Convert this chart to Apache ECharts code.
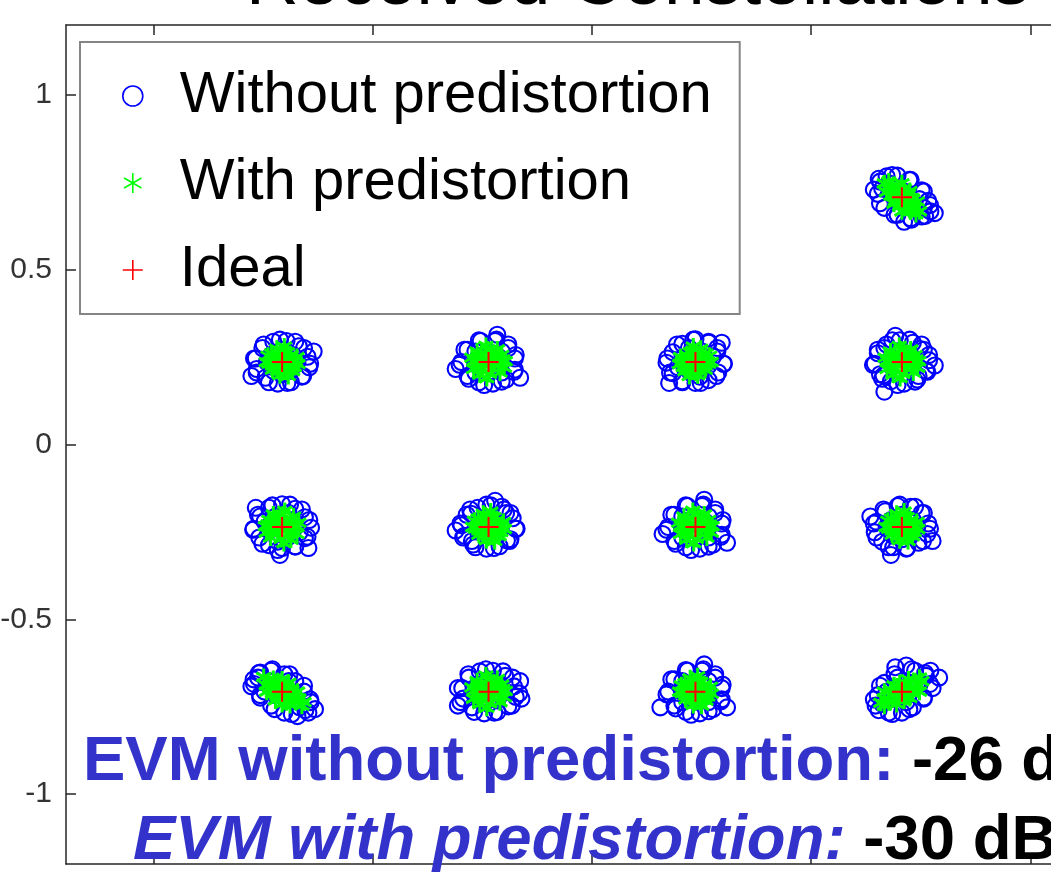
<!DOCTYPE html>
<html>
<head>
<meta charset="utf-8">
<script src="https://cdn.jsdelivr.net/npm/echarts@6/dist/echarts.min.js"></script>
<style>
  html, body { margin: 0; padding: 0; background: #ffffff; }
  #chart { width: 1051px; height: 873px; }
</style>
</head>
<body>
<div id="chart"></div>
<script>
// 16-QAM received constellation: measured symbols with and without predistortion
const titleText = 'Received Constellations';
const seriesNames = ['Without predistortion', 'With predistortion', 'Ideal'];
const xTicks = [-1, -0.5, 0, 0.5, 1];
const yTicks = [-1, -0.5, 0, 0.5, 1];
const evmWithout = -26;   // dB
const evmWith = -30;      // dB

// ideal 16-QAM symbol positions
const ideal = [
  [-0.707, 0.707], [-0.236, 0.707], [0.236, 0.707], [0.707, 0.707],
  [-0.707, 0.236], [-0.236, 0.236], [0.236, 0.236], [0.707, 0.236],
  [-0.707, -0.236], [-0.236, -0.236], [0.236, -0.236], [0.707, -0.236],
  [-0.707, -0.707], [-0.236, -0.707], [0.236, -0.707], [0.707, -0.707]
];

// received symbols, PA without predistortion
const withoutPD = [
  [-0.767,0.662],[-0.767,0.697],[-0.747,0.737],[-0.717,0.767],[-0.687,0.772],[-0.662,0.757],[-0.642,0.737],[-0.647,0.702],[-0.672,0.672],[-0.702,0.652],[-0.732,0.647],[-0.752,0.672],[-0.727,0.717],[-0.687,0.727],[-0.707,0.687],[-0.677,0.707],[-0.737,0.687],[-0.697,0.742],[-0.747,0.707],[-0.662,0.722],[-0.637,0.762],[-0.777,0.657],
  [-0.301,0.702],[-0.286,0.737],[-0.266,0.762],[-0.236,0.772],[-0.206,0.759],[-0.184,0.735],[-0.170,0.705],[-0.184,0.675],[-0.206,0.652],[-0.236,0.647],[-0.266,0.655],[-0.288,0.677],[-0.251,0.737],[-0.206,0.717],[-0.224,0.677],[-0.266,0.697],
  [0.181,0.732],[0.201,0.757],[0.231,0.769],[0.261,0.762],[0.286,0.742],[0.298,0.712],[0.291,0.682],[0.271,0.657],[0.241,0.645],[0.211,0.652],[0.186,0.672],[0.174,0.702],[0.216,0.717],[0.246,0.732],[0.258,0.697],[0.228,0.685],
  [0.657,0.752],[0.672,0.767],[0.697,0.769],[0.727,0.757],[0.752,0.727],[0.767,0.697],[0.772,0.667],[0.752,0.652],[0.727,0.647],[0.697,0.657],[0.667,0.677],[0.652,0.717],[0.682,0.732],[0.732,0.682],[0.717,0.722],[0.692,0.697],[0.747,0.702],[0.677,0.747],[0.757,0.677],[0.662,0.732],[0.782,0.662],[0.712,0.637],
  [0.760,0.654],[0.771,0.685],[0.757,0.724],[0.724,0.757],[0.685,0.771],[0.654,0.760],[0.643,0.729],[0.657,0.690],[0.690,0.657],[0.729,0.643],

  [-0.767,0.246],[-0.752,0.276],[-0.727,0.294],[-0.697,0.296],[-0.669,0.281],[-0.649,0.251],[-0.645,0.221],[-0.662,0.194],[-0.687,0.178],[-0.717,0.174],[-0.745,0.191],[-0.765,0.216],[-0.732,0.256],[-0.682,0.256],[-0.687,0.211],[-0.727,0.211],[-0.707,0.271],[-0.672,0.236],[-0.707,0.201],[-0.742,0.236],[-0.635,0.266],[-0.777,0.196],
  [-0.657,0.276],[-0.643,0.231],[-0.659,0.196],[-0.695,0.176],[-0.737,0.178],[-0.765,0.206],[-0.771,0.246],[-0.749,0.286],[-0.712,0.300],[-0.677,0.294],
  [-0.298,0.236],[-0.284,0.271],[-0.254,0.296],[-0.221,0.296],[-0.191,0.276],[-0.176,0.246],[-0.176,0.214],[-0.196,0.186],[-0.226,0.174],[-0.258,0.178],[-0.284,0.196],[-0.266,0.236],[-0.236,0.264],[-0.208,0.236],[-0.236,0.208],[-0.206,0.266],[-0.266,0.266],[-0.206,0.206],[-0.266,0.206],[-0.311,0.216],[-0.216,0.314],[-0.164,0.191],
  [-0.174,0.256],[-0.178,0.208],[-0.206,0.180],[-0.246,0.170],[-0.281,0.188],[-0.302,0.228],[-0.291,0.271],[-0.258,0.298],[-0.218,0.300],[-0.191,0.286],
  [0.301,0.231],[0.286,0.266],[0.266,0.291],[0.236,0.301],[0.206,0.288],[0.184,0.264],[0.170,0.234],[0.184,0.204],[0.206,0.181],[0.236,0.176],[0.266,0.184],[0.288,0.206],[0.251,0.266],[0.206,0.246],[0.224,0.206],[0.266,0.226],[0.221,0.276],[0.276,0.251],[0.196,0.221],[0.246,0.194],[0.296,0.291],[0.176,0.176],
  [0.286,0.276],[0.300,0.231],[0.284,0.196],[0.248,0.176],[0.206,0.178],[0.178,0.206],[0.172,0.246],[0.194,0.286],[0.231,0.300],[0.266,0.294],
  [0.652,0.261],[0.672,0.286],[0.702,0.298],[0.732,0.291],[0.757,0.271],[0.769,0.241],[0.762,0.211],[0.742,0.186],[0.712,0.174],[0.682,0.181],[0.657,0.201],[0.645,0.231],[0.687,0.246],[0.717,0.261],[0.729,0.226],[0.699,0.214],[0.667,0.276],[0.747,0.274],[0.745,0.196],[0.665,0.198],[0.782,0.226],[0.692,0.311],[0.667,0.151],
  [0.769,0.256],[0.765,0.208],[0.737,0.180],[0.697,0.170],[0.662,0.188],[0.641,0.228],[0.652,0.271],[0.685,0.298],[0.725,0.300],[0.752,0.286],

  [-0.772,-0.241],[-0.757,-0.206],[-0.737,-0.181],[-0.707,-0.171],[-0.677,-0.184],[-0.655,-0.208],[-0.641,-0.238],[-0.655,-0.268],[-0.677,-0.291],[-0.707,-0.296],[-0.737,-0.288],[-0.759,-0.266],[-0.722,-0.206],[-0.677,-0.226],[-0.695,-0.266],[-0.737,-0.246],[-0.692,-0.196],[-0.747,-0.221],[-0.667,-0.251],[-0.717,-0.278],[-0.767,-0.181],[-0.647,-0.296],[-0.712,-0.316],
  [-0.645,-0.216],[-0.649,-0.264],[-0.677,-0.292],[-0.717,-0.302],[-0.752,-0.284],[-0.773,-0.244],[-0.762,-0.201],[-0.729,-0.174],[-0.689,-0.172],[-0.662,-0.186],
  [-0.181,-0.211],[-0.201,-0.186],[-0.231,-0.174],[-0.261,-0.181],[-0.286,-0.201],[-0.298,-0.231],[-0.291,-0.261],[-0.271,-0.286],[-0.241,-0.298],[-0.211,-0.291],[-0.186,-0.271],[-0.174,-0.241],[-0.216,-0.226],[-0.246,-0.211],[-0.258,-0.246],[-0.228,-0.258],[-0.196,-0.196],[-0.276,-0.198],[-0.274,-0.276],[-0.194,-0.274],[-0.311,-0.246],[-0.221,-0.161],
  [-0.186,-0.196],[-0.172,-0.241],[-0.188,-0.276],[-0.224,-0.296],[-0.266,-0.294],[-0.294,-0.266],[-0.300,-0.226],[-0.278,-0.186],[-0.241,-0.172],[-0.206,-0.178],
  [0.174,-0.236],[0.188,-0.201],[0.218,-0.176],[0.251,-0.176],[0.281,-0.196],[0.296,-0.226],[0.296,-0.258],[0.276,-0.286],[0.246,-0.298],[0.214,-0.294],[0.188,-0.276],[0.206,-0.236],[0.236,-0.208],[0.264,-0.236],[0.236,-0.264],[0.266,-0.206],[0.206,-0.206],[0.266,-0.266],[0.206,-0.266],[0.161,-0.256],[0.256,-0.158],[0.308,-0.281],
  [0.298,-0.216],[0.294,-0.264],[0.266,-0.292],[0.226,-0.302],[0.191,-0.284],[0.170,-0.244],[0.181,-0.201],[0.214,-0.174],[0.254,-0.172],[0.281,-0.186],
  [0.767,-0.226],[0.752,-0.196],[0.727,-0.178],[0.697,-0.176],[0.669,-0.191],[0.649,-0.221],[0.645,-0.251],[0.662,-0.278],[0.687,-0.294],[0.717,-0.298],[0.745,-0.281],[0.765,-0.256],[0.732,-0.216],[0.682,-0.216],[0.687,-0.261],[0.727,-0.261],[0.707,-0.201],[0.672,-0.236],[0.707,-0.271],[0.742,-0.236],[0.635,-0.206],[0.777,-0.276],[0.682,-0.316],
  [0.757,-0.196],[0.771,-0.241],[0.755,-0.276],[0.719,-0.296],[0.677,-0.294],[0.649,-0.266],[0.643,-0.226],[0.665,-0.186],[0.702,-0.172],[0.737,-0.178],

  [-0.772,-0.672],[-0.757,-0.652],[-0.732,-0.647],[-0.702,-0.657],[-0.677,-0.677],[-0.657,-0.707],[-0.642,-0.737],[-0.647,-0.767],[-0.672,-0.777],[-0.702,-0.767],[-0.732,-0.747],[-0.757,-0.717],[-0.777,-0.692],[-0.737,-0.677],[-0.682,-0.732],[-0.707,-0.692],[-0.667,-0.752],[-0.722,-0.717],[-0.692,-0.677],[-0.747,-0.707],[-0.632,-0.757],[-0.762,-0.667],
  [-0.654,-0.760],[-0.643,-0.729],[-0.657,-0.690],[-0.690,-0.657],[-0.729,-0.643],[-0.760,-0.654],[-0.771,-0.685],[-0.757,-0.724],[-0.724,-0.757],[-0.685,-0.771],
  [-0.296,-0.697],[-0.281,-0.667],[-0.256,-0.649],[-0.226,-0.647],[-0.198,-0.662],[-0.178,-0.692],[-0.174,-0.722],[-0.191,-0.749],[-0.216,-0.765],[-0.246,-0.769],[-0.274,-0.752],[-0.294,-0.727],[-0.261,-0.687],[-0.211,-0.687],[-0.216,-0.732],[-0.256,-0.732],[-0.236,-0.672],[-0.201,-0.707],[-0.236,-0.742],[-0.271,-0.707],[-0.164,-0.677],[-0.306,-0.747],[-0.161,-0.727],
  [-0.181,-0.667],[-0.166,-0.712],[-0.183,-0.747],[-0.223,-0.767],[-0.269,-0.765],[-0.300,-0.737],[-0.306,-0.697],[-0.282,-0.657],[-0.242,-0.643],[-0.203,-0.649],
  [0.174,-0.707],[0.188,-0.672],[0.218,-0.647],[0.251,-0.647],[0.281,-0.667],[0.296,-0.697],[0.296,-0.729],[0.276,-0.757],[0.246,-0.769],[0.214,-0.765],[0.188,-0.747],[0.206,-0.707],[0.236,-0.679],[0.264,-0.707],[0.236,-0.735],[0.266,-0.677],[0.206,-0.677],[0.266,-0.737],[0.206,-0.737],[0.156,-0.752],[0.256,-0.629],[0.308,-0.752],
  [0.298,-0.687],[0.294,-0.735],[0.266,-0.763],[0.226,-0.773],[0.191,-0.755],[0.170,-0.715],[0.181,-0.672],[0.214,-0.645],[0.254,-0.643],[0.281,-0.657],
  [0.647,-0.747],[0.652,-0.717],[0.667,-0.682],[0.692,-0.637],[0.717,-0.632],[0.737,-0.647],[0.762,-0.662],[0.792,-0.667],[0.777,-0.697],[0.757,-0.727],[0.732,-0.752],[0.707,-0.767],[0.677,-0.767],[0.662,-0.742],[0.687,-0.722],[0.727,-0.682],[0.747,-0.687],[0.697,-0.667],[0.717,-0.737],[0.672,-0.707],[0.772,-0.647],[0.702,-0.697],
  [0.760,-0.654],[0.729,-0.643],[0.690,-0.657],[0.657,-0.690],[0.643,-0.729],[0.654,-0.760],[0.685,-0.771],[0.724,-0.757],[0.757,-0.724],[0.771,-0.685]
];

// received symbols, PA with predistortion
const withPD = [
  [-0.707,0.707],[-0.677,0.737],[-0.737,0.677],[-0.672,0.727],[-0.747,0.687],[-0.692,0.742],[-0.719,0.672],[-0.687,0.717],[-0.727,0.697],[-0.717,0.722],[-0.697,0.692],[-0.702,0.682],[-0.712,0.732],[-0.667,0.707],[-0.747,0.707],[-0.667,0.747],[-0.747,0.667],[-0.732,0.712],[-0.682,0.702],[-0.692,0.727],[-0.722,0.687],[-0.689,0.689],[-0.725,0.725],[-0.662,0.737],[-0.755,0.675],[-0.707,0.715],
  [-0.236,0.707],[-0.256,0.717],[-0.218,0.695],[-0.246,0.682],[-0.216,0.727],[-0.266,0.702],[-0.206,0.709],[-0.231,0.739],[-0.241,0.669],[-0.224,0.735],[-0.260,0.731],[-0.212,0.681],[-0.268,0.725],[-0.202,0.721],[-0.251,0.692],[-0.226,0.702],
  [0.240,0.709],[0.218,0.725],[0.258,0.699],[0.222,0.687],[0.252,0.731],[0.204,0.711],[0.268,0.715],[0.234,0.743],[0.238,0.673],[0.256,0.743],[0.210,0.737],[0.262,0.677],[0.202,0.687],[0.272,0.691],[0.226,0.697],[0.248,0.717],
  [0.707,0.707],[0.677,0.737],[0.737,0.677],[0.687,0.742],[0.727,0.667],[0.672,0.722],[0.742,0.695],[0.697,0.727],[0.717,0.687],[0.692,0.697],[0.722,0.717],[0.682,0.712],[0.732,0.702],[0.707,0.747],[0.707,0.667],[0.667,0.747],[0.747,0.667],[0.702,0.682],[0.712,0.732],[0.687,0.722],[0.727,0.692],[0.725,0.725],[0.689,0.689],[0.677,0.752],[0.739,0.659],[0.715,0.707],

  [-0.707,0.236],[-0.727,0.246],[-0.689,0.224],[-0.717,0.211],[-0.687,0.256],[-0.737,0.231],[-0.677,0.238],[-0.702,0.268],[-0.712,0.198],[-0.695,0.264],[-0.731,0.260],[-0.683,0.210],[-0.739,0.254],[-0.673,0.250],[-0.722,0.221],[-0.697,0.231],[-0.715,0.251],[-0.689,0.241],[-0.729,0.214],[-0.679,0.222],[-0.707,0.216],[-0.743,0.236],[-0.671,0.230],[-0.702,0.280],[-0.719,0.274],[-0.693,0.196],
  [-0.232,0.238],[-0.254,0.254],[-0.214,0.228],[-0.250,0.216],[-0.220,0.260],[-0.268,0.240],[-0.204,0.244],[-0.238,0.272],[-0.234,0.202],[-0.216,0.272],[-0.262,0.266],[-0.210,0.206],[-0.270,0.216],[-0.200,0.220],[-0.246,0.226],[-0.224,0.246],[-0.246,0.246],[-0.226,0.218],[-0.256,0.200],[-0.206,0.256],[-0.240,0.190],[-0.274,0.248],[-0.198,0.238],[-0.242,0.282],[-0.228,0.256],[-0.260,0.232],
  [0.236,0.236],[0.256,0.246],[0.218,0.224],[0.246,0.211],[0.216,0.256],[0.266,0.231],[0.206,0.238],[0.231,0.268],[0.241,0.198],[0.224,0.264],[0.260,0.260],[0.212,0.210],[0.268,0.254],[0.202,0.250],[0.251,0.221],[0.226,0.231],[0.244,0.251],[0.218,0.241],[0.258,0.214],[0.208,0.222],[0.236,0.216],[0.272,0.236],[0.200,0.230],[0.231,0.280],[0.248,0.274],[0.222,0.196],
  [0.711,0.238],[0.689,0.254],[0.729,0.228],[0.693,0.216],[0.723,0.260],[0.675,0.240],[0.739,0.244],[0.705,0.272],[0.709,0.202],[0.727,0.272],[0.681,0.266],[0.733,0.206],[0.673,0.216],[0.743,0.220],[0.697,0.226],[0.719,0.246],[0.697,0.246],[0.717,0.218],[0.687,0.200],[0.737,0.256],[0.703,0.190],[0.669,0.248],[0.745,0.238],[0.701,0.282],[0.715,0.256],[0.683,0.232],

  [-0.711,-0.234],[-0.689,-0.218],[-0.729,-0.244],[-0.693,-0.256],[-0.723,-0.212],[-0.675,-0.232],[-0.739,-0.228],[-0.705,-0.200],[-0.709,-0.270],[-0.727,-0.200],[-0.681,-0.206],[-0.733,-0.266],[-0.673,-0.256],[-0.743,-0.252],[-0.697,-0.246],[-0.719,-0.226],[-0.697,-0.226],[-0.717,-0.254],[-0.687,-0.272],[-0.737,-0.216],[-0.703,-0.282],[-0.669,-0.224],[-0.745,-0.234],[-0.701,-0.190],[-0.715,-0.216],[-0.683,-0.240],
  [-0.236,-0.236],[-0.256,-0.226],[-0.218,-0.248],[-0.246,-0.261],[-0.216,-0.216],[-0.266,-0.241],[-0.206,-0.234],[-0.231,-0.204],[-0.241,-0.274],[-0.224,-0.208],[-0.260,-0.212],[-0.212,-0.262],[-0.268,-0.218],[-0.202,-0.222],[-0.251,-0.251],[-0.226,-0.241],[-0.244,-0.221],[-0.218,-0.231],[-0.258,-0.258],[-0.208,-0.250],[-0.236,-0.256],[-0.272,-0.236],[-0.200,-0.242],[-0.231,-0.192],[-0.248,-0.198],[-0.222,-0.276],
  [0.240,-0.234],[0.218,-0.218],[0.258,-0.244],[0.222,-0.256],[0.252,-0.212],[0.204,-0.232],[0.268,-0.228],[0.234,-0.200],[0.238,-0.270],[0.256,-0.200],[0.210,-0.206],[0.262,-0.266],[0.202,-0.256],[0.272,-0.252],[0.226,-0.246],[0.248,-0.226],[0.226,-0.226],[0.246,-0.254],[0.216,-0.272],[0.266,-0.216],[0.232,-0.282],[0.198,-0.224],[0.274,-0.234],[0.230,-0.190],[0.244,-0.216],[0.212,-0.240],
  [0.707,-0.236],[0.687,-0.226],[0.725,-0.248],[0.697,-0.261],[0.727,-0.216],[0.677,-0.241],[0.737,-0.234],[0.712,-0.204],[0.702,-0.274],[0.719,-0.208],[0.683,-0.212],[0.731,-0.262],[0.675,-0.218],[0.741,-0.222],[0.692,-0.251],[0.717,-0.241],[0.699,-0.221],[0.725,-0.231],[0.685,-0.258],[0.735,-0.250],[0.707,-0.256],[0.671,-0.236],[0.743,-0.242],[0.712,-0.192],[0.695,-0.198],[0.721,-0.276],

  [-0.707,-0.707],[-0.677,-0.735],[-0.737,-0.677],[-0.669,-0.727],[-0.743,-0.689],[-0.689,-0.745],[-0.727,-0.671],[-0.695,-0.695],[-0.719,-0.719],[-0.685,-0.703],[-0.729,-0.711],[-0.703,-0.727],[-0.711,-0.687],[-0.662,-0.747],[-0.749,-0.665],[-0.679,-0.717],[-0.735,-0.697],[-0.697,-0.737],[-0.717,-0.677],[-0.707,-0.742],[-0.707,-0.672],[-0.672,-0.707],[-0.742,-0.707],[-0.692,-0.682],[-0.722,-0.732],[-0.657,-0.737],
  [-0.232,-0.705],[-0.254,-0.689],[-0.214,-0.715],[-0.250,-0.727],[-0.220,-0.683],[-0.268,-0.703],[-0.204,-0.699],[-0.238,-0.671],[-0.234,-0.741],[-0.216,-0.671],[-0.262,-0.677],[-0.210,-0.737],[-0.270,-0.727],[-0.200,-0.723],[-0.246,-0.717],[-0.224,-0.697],[-0.246,-0.697],[-0.226,-0.725],[-0.256,-0.743],[-0.206,-0.687],[-0.240,-0.753],[-0.274,-0.695],[-0.198,-0.705],[-0.242,-0.661],[-0.228,-0.687],[-0.260,-0.711],
  [0.236,-0.707],[0.216,-0.697],[0.254,-0.719],[0.226,-0.732],[0.256,-0.687],[0.206,-0.712],[0.266,-0.705],[0.241,-0.675],[0.231,-0.745],[0.248,-0.679],[0.212,-0.683],[0.260,-0.733],[0.204,-0.689],[0.270,-0.693],[0.221,-0.722],[0.246,-0.712],[0.228,-0.692],[0.254,-0.702],[0.214,-0.729],[0.264,-0.721],[0.236,-0.727],[0.200,-0.707],[0.272,-0.713],[0.241,-0.663],[0.224,-0.669],[0.250,-0.747],
  [0.707,-0.707],[0.737,-0.677],[0.677,-0.737],[0.742,-0.687],[0.667,-0.727],[0.722,-0.672],[0.695,-0.742],[0.727,-0.697],[0.687,-0.717],[0.697,-0.692],[0.717,-0.722],[0.712,-0.732],[0.702,-0.682],[0.747,-0.707],[0.667,-0.707],[0.747,-0.667],[0.667,-0.747],[0.682,-0.702],[0.732,-0.712],[0.722,-0.687],[0.692,-0.727],[0.725,-0.725],[0.689,-0.689],[0.752,-0.677],[0.659,-0.739],[0.707,-0.699]
];

const FONT = '"Liberation Sans", Arial, Helvetica, sans-serif';
const AXIS_COLOR = '#262626';

// marker shapes: MATLAB-style asterisk and plus
const asteriskPath = 'path://M10,0L10,20M1.34,5L18.66,15M1.34,15L18.66,5';
const plusPath = 'path://M10,0L10,20M0,10L20,10';

const chart = echarts.init(document.getElementById('chart'), null, { renderer: 'canvas' });

function boxAxis(position, showLabels, ticks) {
  return {
    type: 'value',
    position: position,
    min: -1.2,
    max: 1.2,
    axisLine: { show: true, onZero: false, lineStyle: { color: AXIS_COLOR, width: 1.5 } },
    axisTick: { show: true, inside: true, length: 10, customValues: ticks,
                lineStyle: { color: AXIS_COLOR, width: 1.5 } },
    axisLabel: { show: showLabels, customValues: ticks, margin: 14,
                 color: '#333333', fontSize: 30, fontFamily: FONT },
    splitLine: { show: false }
  };
}

const option = {
  animation: false,
  backgroundColor: '#ffffff',
  grid: { left: 66, top: 25, right: -67, bottom: 9, containLabel: false, outerBoundsMode: 'none' },
  xAxis: [boxAxis('bottom', false, xTicks), boxAxis('top', false, xTicks)],
  yAxis: [boxAxis('left', true, yTicks), boxAxis('right', false, yTicks)],
  legend: {
    orient: 'vertical',
    left: 80,
    top: 42,
    z: 10,
    padding: [24, 28, 14, 42],
    itemGap: 27,
    itemWidth: 84,
    itemHeight: 20,
    backgroundColor: '#ffffff',
    borderColor: '#858585',
    borderWidth: 2,
    borderRadius: 0,
    selectedMode: false,
    itemStyle: { borderWidth: 1.6 },
    textStyle: { fontSize: 58, lineHeight: 60, color: '#000000', fontFamily: FONT },
    data: [
      { name: seriesNames[0], icon: 'circle' },
      { name: seriesNames[1], icon: asteriskPath },
      { name: seriesNames[2], icon: plusPath }
    ]
  },
  series: [
    {
      name: seriesNames[0],
      type: 'scatter',
      data: withoutPD,
      symbol: 'circle',
      symbolSize: 16,
      itemStyle: { color: 'rgba(0,0,0,0)', borderColor: '#0000ff', borderWidth: 2.1, opacity: 1 },
      emphasis: { disabled: true },
      z: 2
    },
    {
      name: seriesNames[1],
      type: 'scatter',
      data: withPD,
      symbol: asteriskPath,
      symbolSize: 17,
      symbolKeepAspect: true,
      itemStyle: { color: 'rgba(0,0,0,0)', borderColor: '#00ff00', borderWidth: 3, opacity: 1 },
      emphasis: { disabled: true },
      z: 2
    },
    {
      name: seriesNames[2],
      type: 'scatter',
      data: ideal,
      symbol: plusPath,
      symbolSize: 20,
      itemStyle: { color: 'rgba(0,0,0,0)', borderColor: '#ff0000', borderWidth: 2, opacity: 1 },
      emphasis: { disabled: true },
      z: 2
    }
  ],
  graphic: [
    {
      type: 'text', x: 246, y: -16, z: 100, silent: true,
      style: { text: titleText, fontSize: 73, fontFamily: FONT, fill: '#000000', verticalAlign: 'middle' }
    },
    {
      type: 'text', x: 83, y: 762, z: 100, silent: true,
      style: {
        text: '{a|EVM without predistortion:} {b|' + evmWithout + ' dB}',
        fontSize: 63.5, fontWeight: 'bold', fontFamily: FONT, verticalAlign: 'middle',
        rich: {
          a: { fill: '#3333cc', fontSize: 63.5, fontWeight: 'bold', fontFamily: FONT },
          b: { fill: '#000000', fontSize: 63.5, fontWeight: 'bold', fontFamily: FONT }
        }
      }
    },
    {
      type: 'text', x: 133, y: 841, z: 100, silent: true,
      style: {
        text: '{a|EVM with predistortion:} {b|' + evmWith + ' dB}',
        fontSize: 63.5, fontWeight: 'bold', fontFamily: FONT, verticalAlign: 'middle',
        rich: {
          a: { fill: '#3333cc', fontSize: 63.5, fontWeight: 'bold', fontStyle: 'italic', fontFamily: FONT },
          b: { fill: '#000000', fontSize: 63.5, fontWeight: 'bold', fontFamily: FONT }
        }
      }
    }
  ]
};

chart.setOption(option);
</script>
</body>
</html>
